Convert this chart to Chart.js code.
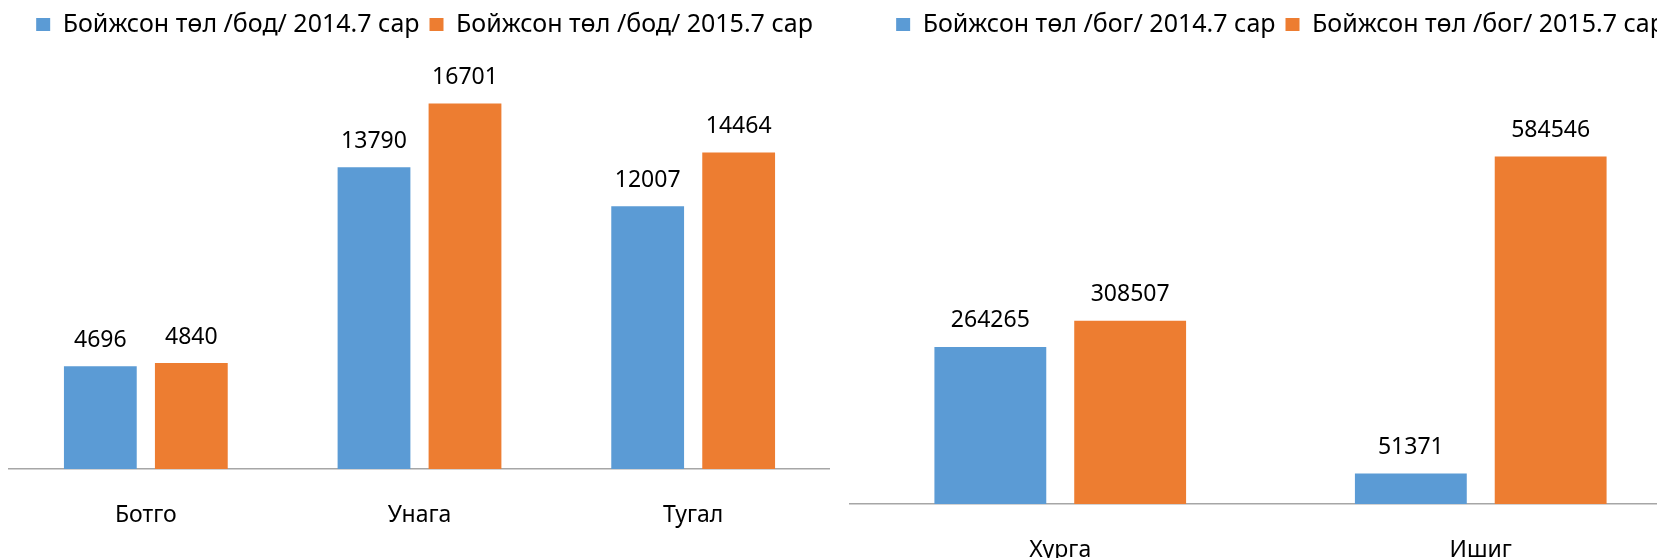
<!DOCTYPE html>
<html>
<head>
<meta charset="utf-8">
<script src="https://cdn.jsdelivr.net/npm/chart.js@4.4.1/dist/chart.umd.min.js"></script>
<style>
  html, body { margin: 0; padding: 0; background: #fff; overflow: hidden; }
  #wrapL { position: absolute; left: 0; top: 0; width: 830px; height: 558px; overflow: hidden; }
  #wrapR { position: absolute; left: 830px; top: 0; width: 827px; height: 558px; overflow: hidden; }
</style>
</head>
<body>
<div id="wrapL"><canvas id="chartL" width="830" height="558"></canvas></div>
<div id="wrapR"><canvas id="chartR" width="880" height="580"></canvas></div>
<script>
// left chart: бод
const leftCategories = ["Ботго", "Унага", "Тугал"];
const leftLabels = ["Бойжсон төл /бод/ 2014.7 сар", "Бойжсон төл /бод/ 2015.7 сар"];
const left2014 = [4696, 13790, 12007];
const left2015 = [4840, 16701, 14464];
const leftMax = 18000;

// right chart: бог
const rightCategories = ["Хурга", "Ишиг"];
const rightLabels = ["Бойжсон төл /бог/ 2014.7 сар", "Бойжсон төл /бог/ 2015.7 сар"];
const right2014 = [264265, 51371];
const right2015 = [308507, 584546];
const rightMax = 700000;

const BLUE = "#5B9BD5";
const ORANGE = "#ED7D31";
const FONT = "'Noto Sans', 'Open Sans', sans-serif";
const FONT_SIZE = 23;
const LEGEND_SIZE = 25;

// force legend height (plot top) and nudge the legend sideways
const legendBox = {
  id: "legendBox",
  beforeLayout(chart, args, opts) {
    const lg = chart.legend;
    if (!lg || lg._patched) return;
    const fit = lg.fit;
    lg.fit = function () {
      fit.call(this);
      this.height = opts.h;
    };
    lg._patched = true;
  },
  afterLayout(chart, args, opts) {
    chart.legend.left += opts.dx;
    chart.legend.right += opts.dx;
  }
};

// value labels above each bar
const barValues = {
  id: "barValues",
  afterDatasetsDraw(chart) {
    const ctx = chart.ctx;
    ctx.save();
    ctx.font = FONT_SIZE + "px " + FONT;
    ctx.fillStyle = "#000";
    ctx.textAlign = "center";
    ctx.textBaseline = "middle";
    chart.data.datasets.forEach((ds, i) => {
      chart.getDatasetMeta(i).data.forEach((bar, j) => {
        ctx.fillText(String(ds.data[j]), bar.x, bar.y - 26);
      });
    });
    ctx.restore();
  }
};

function makeChart(id, categories, labels, a, b, yMax, cfg) {
  return new Chart(document.getElementById(id), {
    type: "bar",
    data: {
      labels: categories,
      datasets: [
        { label: labels[0], data: a, backgroundColor: BLUE },
        { label: labels[1], data: b, backgroundColor: ORANGE }
      ]
    },
    options: {
      responsive: false,
      animation: false,
      devicePixelRatio: 1,
      categoryPercentage: 0.665,
      barPercentage: 0.8,
      layout: { padding: cfg.padding },
      plugins: {
        legendBox: { h: cfg.legendH, dx: cfg.legendDx },
        tooltip: { enabled: false },
        legend: {
          position: "top",
          labels: {
            boxWidth: 14,
            boxHeight: 13,
            padding: 10,
            color: "#000",
            font: { family: FONT, size: LEGEND_SIZE }
          }
        }
      },
      scales: {
        x: {
          grid: { display: false, drawTicks: false },
          border: { display: true, color: "#A6A6A6", width: 1.5 },
          ticks: {
            padding: 33,
            color: "#000",
            font: { family: FONT, size: FONT_SIZE }
          },
          afterFit(scale) { scale.height = cfg.axisH; }
        },
        y: {
          display: false,
          min: 0,
          max: yMax
        }
      }
    },
    plugins: [legendBox, barValues]
  });
}

makeChart("chartL", leftCategories, leftLabels, left2014, left2015, leftMax,
  { padding: { left: 9, right: 0, top: 2, bottom: 0 }, legendH: 73, legendDx: 5, axisH: 89 });

makeChart("chartR", rightCategories, rightLabels, right2014, right2015, rightMax,
  { padding: { left: 20, right: 19, top: 2, bottom: 0 }, legendH: 86, legendDx: 10, axisH: 76 });
</script>
</body>
</html>
